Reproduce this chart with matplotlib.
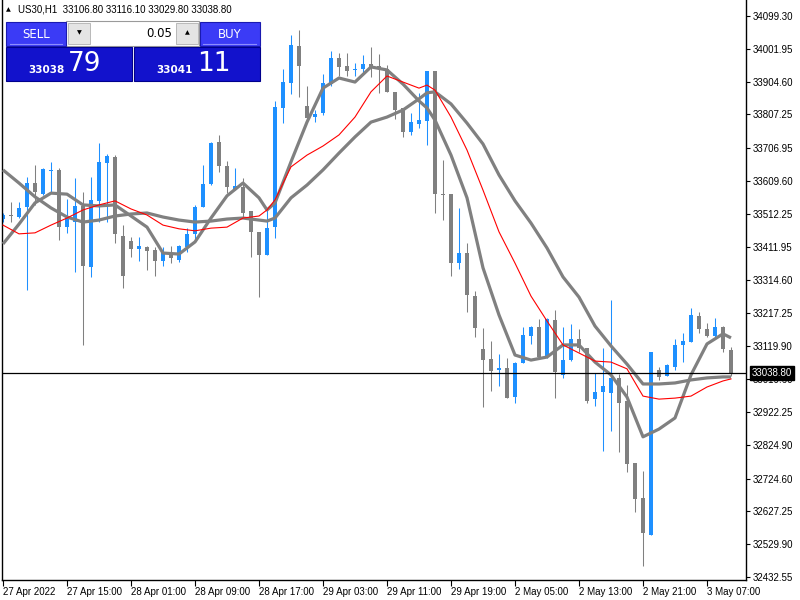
import matplotlib
matplotlib.use("Agg")
import matplotlib.pyplot as plt
import matplotlib.transforms as mtransforms
from matplotlib.patches import Rectangle
import numpy as np

# US30 H1 bars (oldest first)
opens = [33496, 33508, 33502, 33532, 33603, 33570, 33639, 33642, 33472, 33487,
         33535, 33353, 33550, 33662, 33680, 33446, 33431, 33407, 33413, 33404,
         33371, 33395, 33374, 33413, 33452, 33532, 33600, 33725, 33653, 33585,
         33591, 33520, 33457, 33389, 33472, 33826, 33900, 34010, 33832, 33799,
         33811, 33897, 33974, 33951, 33939, 33942, 33957, 33951, 33942, 33873,
         33826, 33755, 33778, 33787, 33936, 33570, 33570, 33365, 33395, 33267,
         33110, 33080, 33048, 33053, 32967, 33068, 33149, 33175, 33086, 33196,
         33033, 33077, 33140, 33113, 32961, 32982, 32979, 33024, 32955, 32771,
         32667, 32557, 33048, 33030, 33056, 33122, 33131, 33208, 33169, 33149,
         33175, 33106.8]
highs = [33514, 33547, 33547, 33621, 33656, 33647, 33665, 33647, 33555, 33618,
         33576, 33621, 33722, 33689, 33686, 33478, 33443, 33443, 33416, 33413,
         33413, 33416, 33419, 33469, 33538, 33656, 33725, 33746, 33668, 33647,
         33618, 33520, 33457, 33523, 33847, 33942, 34043, 34058, 33891, 33820,
         33927, 33995, 33989, 33989, 33960, 33983, 34007, 33986, 33954, 33873,
         33826, 33811, 33870, 33936, 33936, 33671, 33570, 33529, 33425, 33282,
         33172, 33134, 33095, 33083, 33071, 33175, 33178, 33199, 33202, 33226,
         33175, 33184, 33169, 33113, 33039, 33113, 33256, 33036, 33003, 32771,
         32747, 33101, 33056, 33065, 33140, 33157, 33232, 33220, 33187, 33202,
         33178, 33116.1]
lows = [33487, 33487, 33499, 33285, 33538, 33567, 33573, 33434, 33455, 33339,
        33122, 33324, 33487, 33487, 33425, 33291, 33383, 33371, 33345, 33327,
        33356, 33365, 33368, 33398, 33434, 33532, 33597, 33636, 33573, 33582,
        33502, 33383, 33264, 33389, 33440, 33781, 33867, 33858, 33790, 33784,
        33805, 33891, 33921, 33921, 33921, 33930, 33918, 33870, 33873, 33793,
        33740, 33746, 33766, 33716, 33514, 33493, 33327, 33347, 33220, 33146,
        32938, 32985, 33000, 32964, 32950, 33068, 33125, 33086, 33083, 32964,
        33024, 33074, 33101, 32950, 32941, 32807, 32866, 32804, 32744, 32625,
        32465, 32557, 33018, 33030, 33048, 33071, 33131, 33157, 33146, 33146,
        33101, 33029.8]
closes = [33508, 33505, 33529, 33603, 33576, 33644, 33642, 33472, 33499, 33535,
          33356, 33553, 33665, 33683, 33452, 33327, 33407, 33416, 33401, 33371,
          33395, 33380, 33416, 33452, 33532, 33600, 33722, 33653, 33591, 33594,
          33514, 33457, 33389, 33469, 33829, 33903, 34013, 33951, 33796, 33808,
          33900, 33974, 33948, 33936, 33942, 33957, 33948, 33945, 33873, 33820,
          33755, 33784, 33790, 33936, 33570, 33567, 33365, 33395, 33270, 33172,
          33077, 33045, 33053, 32964, 33068, 33152, 33175, 33086, 33199, 33042,
          33077, 33140, 33113, 32956, 32982, 33000, 33024, 32950, 32768, 32664,
          32563, 33101, 33027, 33062, 33122, 33134, 33211, 33169, 33149, 33175,
          33110, 33038.8]

# moving averages, sampled at these bars
ma_bars = [0, 2, 4, 6, 8, 10, 12, 14, 16, 18, 20, 22, 24, 26, 28, 30, 32, 33,
           34, 36, 38, 40, 42, 44, 46, 48, 50, 52, 53, 54, 56, 58, 60, 62, 64,
           66, 68, 70, 72, 74, 76, 78, 80, 82, 84, 86, 88, 90, 91]
ma_fast = [33422, 33481, 33544, 33573, 33570, 33538, 33535, 33538, 33505, 33472,
           33395, 33392, 33428, 33499, 33565, 33603, 33559, 33523, 33544, 33666,
           33784, 33885, 33915, 33903, 33948, 33939, 33897, 33847, 33826, 33790,
           33686, 33559, 33351, 33211, 33092, 33077, 33086, 33122, 33122, 33071,
           33033, 32967, 32849, 32872, 32905, 33033, 33125, 33155, 33143]
ma_slow = [33642, 33603, 33562, 33529, 33502, 33487, 33493, 33505, 33511, 33514,
           33502, 33493, 33487, 33490, 33496, 33499, 33493, 33490, 33499, 33559,
           33597, 33642, 33692, 33740, 33784, 33799, 33820, 33853, 33871, 33874,
           33838, 33781, 33719, 33627, 33550, 33484, 33410, 33324, 33264, 33178,
           33119, 33065, 33006, 33006, 33009, 33018, 33024, 33027, 33027]
ma_red = [33478, 33452, 33455, 33478, 33499, 33523, 33538, 33550, 33526, 33508,
          33478, 33467, 33461, 33469, 33472, 33499, 33505, 33523, 33553, 33651,
          33686, 33713, 33746, 33799, 33874, 33921, 33903, 33885, 33894, 33879,
          33799, 33701, 33582, 33458, 33365, 33267, 33193, 33122, 33098, 33074,
          33071, 33051, 32970, 32961, 32964, 32970, 32997, 33015, 33021]

time_tick_bars = [0, 8, 16, 24, 32, 40, 48, 56, 64, 72, 80, 88]
time_labels = ["27 Apr 2022", "27 Apr 15:00", "28 Apr 01:00", "28 Apr 09:00",
               "28 Apr 17:00", "29 Apr 03:00", "29 Apr 11:00", "29 Apr 19:00",
               "2 May 05:00", "2 May 13:00", "2 May 21:00", "3 May 07:00"]
price_ticks = [34099.30, 34001.95, 33904.60, 33807.25, 33706.95, 33609.60,
               33512.25, 33411.95, 33314.60, 33217.25, 33119.90, 33019.60,
               32922.25, 32824.90, 32724.60, 32627.25, 32529.90, 32432.55]

BLUE = "#1e90ff"
GRAY = "#808080"
FONT = "Liberation Sans"
SYM = "DejaVu Sans"

fig = plt.figure(figsize=(8, 6), dpi=100)
fig.patch.set_facecolor("white")
ax = fig.add_axes([2 / 800, 20 / 600, 744 / 800, 580 / 600])
ax.set_xlim(-0.125, 92.875)
ax.set_ylim(32423.6, 34146.8)

o, h, l, c = (np.array(a, dtype=float) for a in (opens, highs, lows, closes))
x = np.arange(len(o))
cols = np.where(c >= o, BLUE, GRAY)
ax.vlines(x, l, h, colors=cols, linewidth=0.75, zorder=2)
body_lo = np.minimum(o, c)
body_h = np.maximum(np.abs(c - o), 3.0)
ax.bar(x, body_h, bottom=body_lo, width=0.62, color=cols, linewidth=0, zorder=2)

ax.plot(ma_bars, ma_slow, color=GRAY, lw=2.3, zorder=3, solid_capstyle="butt")
ax.plot(ma_bars, ma_fast, color=GRAY, lw=2.3, zorder=3, solid_capstyle="butt")
ax.plot(ma_bars, ma_red, color="red", lw=0.8, zorder=4)

# current bid line
ax.axhline(closes[-1], color="black", lw=0.9, zorder=5)

ax.spines["top"].set_visible(False)
for s in ("left", "right", "bottom"):
    ax.spines[s].set_linewidth(1.0)

ax.yaxis.tick_right()
ax.set_yticks(price_ticks)
ax.set_yticklabels([f"{p:.2f}" for p in price_ticks], fontsize=7, family=FONT)
ax.set_xticks(time_tick_bars)
ax.set_xticklabels(time_labels, fontsize=7, family=FONT, ha="left")
ax.tick_params(axis="y", direction="out", length=3, width=0.8, pad=2)
ax.tick_params(axis="x", direction="out", length=4, width=0.8, pad=1)

# price tag on the right scale (covers the 33019.60 label, as in MT4)
trans = mtransforms.blended_transform_factory(ax.transAxes, ax.transData)
ax.text(1.0 + 6 / 744, closes[-1], f"{closes[-1]:.2f}", transform=trans,
        ha="left", va="center", color="white", fontsize=7, family=FONT,
        bbox=dict(boxstyle="square,pad=0.2", facecolor="black", edgecolor="black"),
        zorder=10, clip_on=False)

# header
fig.text(6 / 800, 1 - 10 / 600, "\u25b2", fontsize=4.5, va="center", family=SYM)
fig.text(18 / 800, 1 - 10 / 600,
         f"US30,H1  {opens[-1]:.2f} {highs[-1]:.2f} {lows[-1]:.2f} {closes[-1]:.2f}",
         fontsize=7, va="center", family=FONT)

# one-click trading panel, drawn in pixel space
ov = fig.add_axes([0, 0, 1, 1], zorder=6)
ov.set_xlim(0, 800)
ov.set_ylim(600, 0)
ov.axis("off")
ov.patch.set_alpha(0)

ov.add_patch(Rectangle((66, 21), 133, 25, facecolor="white", edgecolor="#9a9a9a", lw=0.8))
ov.add_patch(Rectangle((6, 22), 60, 24, facecolor="#3b3bf6", edgecolor="#1a1ab0", lw=0.8))
ov.add_patch(Rectangle((200, 22), 60, 24, facecolor="#3b3bf6", edgecolor="#1a1ab0", lw=0.8))
ov.plot([10, 62], [44, 44], color="#8c8cff", lw=0.8)
ov.plot([203, 256], [44, 44], color="#8c8cff", lw=0.8)
ov.add_patch(Rectangle((68, 23), 22, 21, facecolor="#e4e4e4", edgecolor="#b0b0b0", lw=0.6))
ov.add_patch(Rectangle((176, 23), 22, 21, facecolor="#e4e4e4", edgecolor="#b0b0b0", lw=0.6))
ov.add_patch(Rectangle((6, 47), 126, 34, facecolor="#1212cc", edgecolor="#00008c", lw=0.8))
ov.add_patch(Rectangle((134, 47), 126, 34, facecolor="#1212cc", edgecolor="#00008c", lw=0.8))

ov.text(36, 34, "SELL", color="white", fontsize=8.5, ha="center", va="center", family=SYM)
ov.text(230, 34, "BUY", color="white", fontsize=8.5, ha="center", va="center", family=SYM)
ov.text(79, 33, "\u25bc", fontsize=4.5, ha="center", va="center", family=SYM)
ov.text(187, 33, "\u25b2", fontsize=4.5, ha="center", va="center", family=SYM)
ov.text(172, 33.5, "0.05", fontsize=8.5, ha="right", va="center", family=SYM)
ov.text(65, 70, "33038", color="white", fontsize=7.5, weight="bold", ha="right",
        va="center", family=SYM)
ov.text(68, 64, "79", color="white", fontsize=19, ha="left", va="center", family=SYM)
ov.text(193, 70, "33041", color="white", fontsize=7.5, weight="bold", ha="right",
        va="center", family=SYM)
ov.text(197, 64, "11", color="white", fontsize=19, ha="left", va="center", family=SYM)

fig.savefig("out.png", dpi=100, facecolor="white")
